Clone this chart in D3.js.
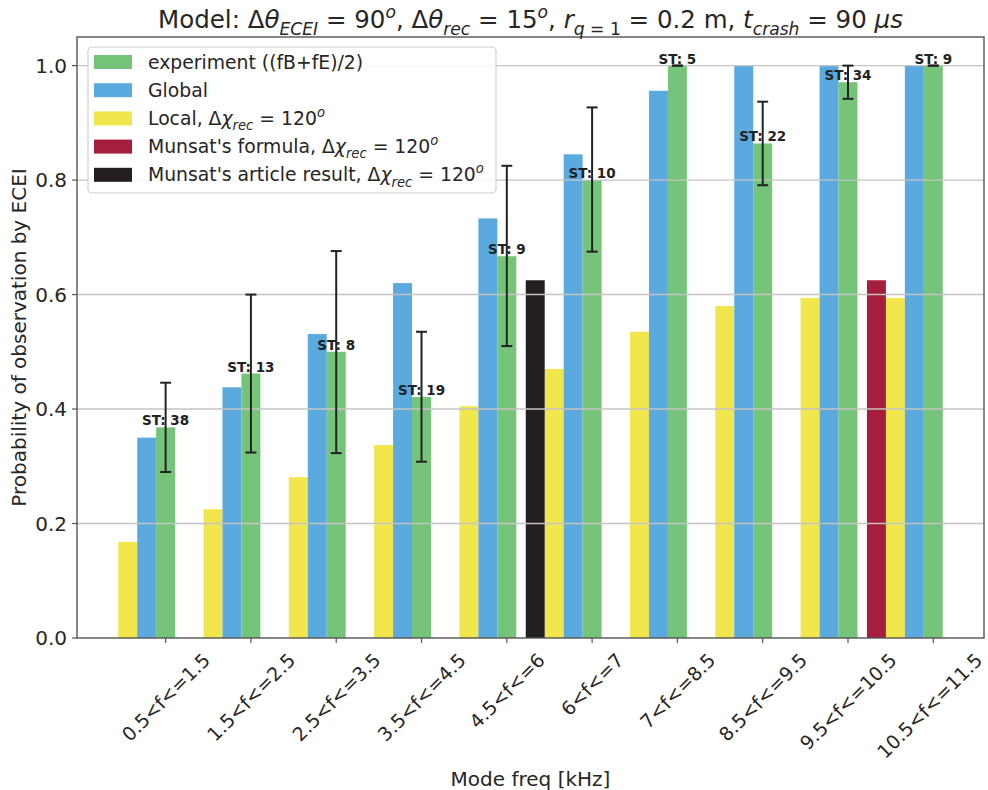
<!DOCTYPE html>
<html>
<head>
<meta charset="utf-8">
<script src="https://cdn.jsdelivr.net/npm/d3@7"></script>
<style>
  html, body { margin: 0; padding: 0; background: #fff; }
  svg { display: block; font-family: "DejaVu Sans", sans-serif; }
</style>
</head>
<body>
<svg id="chart" width="988" height="790"></svg>
<script>
// Frequency bins (x axis)
const categories = ["0.5<f<=1.5", "1.5<f<=2.5", "2.5<f<=3.5", "3.5<f<=4.5", "4.5<f<=6",
                    "6<f<=7", "7<f<=8.5", "8.5<f<=9.5", "9.5<f<=10.5", "10.5<f<=11.5"];
// Model probabilities
const localValues  = [0.168, 0.225, 0.281, 0.337, 0.405, 0.470, 0.535, 0.580, 0.594, 0.594];
const globalValues = [0.350, 0.438, 0.531, 0.620, 0.733, 0.845, 0.956, 1.000, 1.000, 1.000];
// Experiment ((fB+fE)/2) with confidence limits and number of sawteeth per bin
const experimentValues = [0.368, 0.462, 0.500, 0.421, 0.667, 0.800, 1.000, 0.864, 0.971, 1.000];
const errLow  = [0.290, 0.324, 0.323, 0.308, 0.510, 0.675, 1.000, 0.791, 0.942, 1.000];
const errHigh = [0.446, 0.600, 0.676, 0.535, 0.825, 0.927, 1.000, 0.937, 1.000, 1.000];
const stCounts = [38, 13, 8, 19, 9, 10, 5, 22, 34, 9];
// Munsat reference values (single bars)
const munsatFormulaCat = "10.5<f<=11.5";
const munsatFormulaValue = 0.625;
const munsatArticleCat = "6<f<=7";
const munsatArticleValue = 0.625;
// Y ticks
const yTicks = [0.0, 0.2, 0.4, 0.6, 0.8, 1.0];

const colors = {
  experiment: "#76c47a",
  global: "#5aa9df",
  local: "#f1e64b",
  formula: "#a71d3d",
  article: "#231f20"
};

const svg = d3.select("#chart");
const plot = { left: 77, right: 984, top: 37, bottom: 638 };
const barW = 2 / 9; // bar width in category units
const tickFont = 20, xTickFont = 19, labelFont = 20, legendFont = 18.8;

// x in category units: tick i sits at the experiment bar centre
const xMin = -2.5 * barW, xMax = categories.length - 1 + 0.5 * barW;
const xPad = (xMax - xMin) * 0.05;
const x = d3.scaleLinear().domain([xMin - xPad, xMax + xPad]).range([plot.left, plot.right]);
const y = d3.scaleLinear().domain([0, 1.05]).range([plot.bottom, plot.top]);
const idx = c => categories.indexOf(c);

// bars
function barSeries(cls, values, offset, color) {
  svg.append("g").selectAll("rect").data(values).join("rect")
    .attr("class", cls)
    .attr("x", (d, i) => x(i + offset - barW / 2))
    .attr("width", (d, i) => x(i + offset + barW / 2) - x(i + offset - barW / 2))
    .attr("y", d => y(d))
    .attr("height", d => y(0) - y(d))
    .attr("fill", color);
}
barSeries("local", localValues, -2 * barW, colors.local);
barSeries("global", globalValues, -barW, colors.global);
barSeries("experiment", experimentValues, 0, colors.experiment);

const singles = [
  { i: idx(munsatArticleCat), v: munsatArticleValue, c: colors.article },
  { i: idx(munsatFormulaCat), v: munsatFormulaValue, c: colors.formula }
];
svg.append("g").selectAll("rect").data(singles).join("rect")
  .attr("x", d => x(d.i - 3 * barW - barW / 2))
  .attr("width", d => x(d.i - 3 * barW + barW / 2) - x(d.i - 3 * barW - barW / 2))
  .attr("y", d => y(d.v))
  .attr("height", d => y(0) - y(d.v))
  .attr("fill", d => d.c);

// horizontal grid (drawn over the bars)
svg.append("g").selectAll("line").data(yTicks.slice(1)).join("line")
  .attr("x1", plot.left).attr("x2", plot.right)
  .attr("y1", d => y(d)).attr("y2", d => y(d))
  .attr("stroke", "#c4c4c4").attr("stroke-width", 1.4);

// error bars
const eg = svg.append("g").attr("stroke", "#222").attr("stroke-width", 2);
categories.forEach((c, i) => {
  const cx = x(i);
  eg.append("line").attr("x1", cx).attr("x2", cx).attr("y1", y(errLow[i])).attr("y2", y(errHigh[i]));
  [errLow[i], errHigh[i]].forEach(v => {
    eg.append("line").attr("x1", cx - 5.5).attr("x2", cx + 5.5).attr("y1", y(v)).attr("y2", y(v));
  });
});

// ST count labels
svg.append("g").selectAll("text").data(stCounts).join("text")
  .attr("x", (d, i) => x(i))
  .attr("y", (d, i) => y(experimentValues[i]) - 2)
  .attr("text-anchor", "middle")
  .attr("font-size", 13.5).attr("font-weight", "bold").attr("fill", "#222")
  .text(d => "ST: " + d);

// spines
svg.append("rect")
  .attr("x", plot.left).attr("y", plot.top)
  .attr("width", plot.right - plot.left).attr("height", plot.bottom - plot.top)
  .attr("fill", "none").attr("stroke", "#555").attr("stroke-width", 1.4);

// y axis ticks and labels
const yg = svg.append("g");
yTicks.forEach(t => {
  yg.append("line").attr("x1", plot.left - 5).attr("x2", plot.left).attr("y1", y(t)).attr("y2", y(t))
    .attr("stroke", "#555").attr("stroke-width", 1.2);
  yg.append("text").attr("x", plot.left - 10).attr("y", y(t)).attr("dy", "0.36em")
    .attr("text-anchor", "end").attr("font-size", tickFont).attr("fill", "#262626")
    .text(d3.format(".1f")(t));
});

// x axis ticks and rotated labels (kept inside the canvas on the right)
const xg = svg.append("g");
categories.forEach((c, i) => {
  const cx = x(i);
  xg.append("line").attr("x1", cx).attr("x2", cx).attr("y1", plot.bottom).attr("y2", plot.bottom + 5)
    .attr("stroke", "#555").attr("stroke-width", 1.2);
  const t = xg.append("text").attr("font-size", xTickFont).attr("fill", "#262626")
    .attr("text-anchor", "middle").attr("dominant-baseline", "central").text(c);
  const w = t.node().getComputedTextLength();
  const h = xTickFont * 0.95;
  const half = (w + h) / Math.SQRT2 / 2;
  const lx = Math.min(cx, 985 - half);
  const cy = plot.bottom + 12 + half;
  t.attr("transform", `translate(${lx},${cy}) rotate(-45)`);
});

// rich text helper: segments with optional sub/sup and italics
function rich(sel, segs, size) {
  let shift = 0;
  segs.forEach(s => {
    const ts = sel.append("tspan").text(s.t);
    let target = 0, fs = size;
    if (s.sub) { target = size * 0.28; fs = size * 0.7; }
    if (s.sup) { target = -size * 0.42; fs = size * 0.7; }
    ts.attr("dy", target - shift).attr("font-size", fs);
    if (s.it) ts.attr("font-style", "italic");
    shift = target;
  });
}

// title
const title = svg.append("text").attr("x", (plot.left + plot.right) / 2).attr("y", 28)
  .attr("text-anchor", "middle").attr("fill", "#262626");
rich(title, [
  { t: "Model: Δ" }, { t: "θ", it: true }, { t: "ECEI", sub: true, it: true },
  { t: " = 90" }, { t: "o", sup: true, it: true },
  { t: ", Δ" }, { t: "θ", it: true }, { t: "rec", sub: true, it: true },
  { t: " = 15" }, { t: "o", sup: true, it: true },
  { t: ", " }, { t: "r", it: true }, { t: "q", sub: true, it: true }, { t: " = 1", sub: true },
  { t: " = 0.2 m, " }, { t: "t", it: true }, { t: "crash", sub: true, it: true },
  { t: " = 90 " }, { t: "μs", it: true }
], 24.5);

// axis labels
svg.append("text").attr("x", (plot.left + plot.right) / 2).attr("y", 786)
  .attr("text-anchor", "middle").attr("font-size", labelFont).attr("fill", "#262626")
  .text("Mode freq [kHz]");
svg.append("text").attr("transform", `translate(19,${(plot.top + plot.bottom) / 2}) rotate(-90)`)
  .attr("text-anchor", "middle").attr("dominant-baseline", "central")
  .attr("font-size", labelFont).attr("fill", "#262626")
  .text("Probability of observation by ECEI");

// legend
const legendItems = [
  { c: colors.experiment, segs: [{ t: "experiment ((fB+fE)/2)" }] },
  { c: colors.global, segs: [{ t: "Global" }] },
  { c: colors.local, segs: [{ t: "Local, Δ" }, { t: "χ", it: true }, { t: "rec", sub: true, it: true }, { t: " = 120" }, { t: "o", sup: true, it: true }] },
  { c: colors.formula, segs: [{ t: "Munsat's formula, Δ" }, { t: "χ", it: true }, { t: "rec", sub: true, it: true }, { t: " = 120" }, { t: "o", sup: true, it: true }] },
  { c: colors.article, segs: [{ t: "Munsat's article result, Δ" }, { t: "χ", it: true }, { t: "rec", sub: true, it: true }, { t: " = 120" }, { t: "o", sup: true, it: true }] }
];
const lg = svg.append("g");
lg.append("rect").attr("x", 88).attr("y", 47).attr("width", 408).attr("height", 146)
  .attr("rx", 4).attr("fill", "#fff").attr("fill-opacity", 0.85)
  .attr("stroke", "#d0d0d0").attr("stroke-width", 1.2);
legendItems.forEach((it, i) => {
  const cy = 62 + i * 28.2;
  lg.append("rect").attr("x", 94).attr("y", cy - 7).attr("width", 38).attr("height", 14).attr("fill", it.c);
  const t = lg.append("text").attr("x", 148).attr("y", cy + 6.5).attr("fill", "#262626");
  rich(t, it.segs, legendFont);
});
</script>
</body>
</html>
